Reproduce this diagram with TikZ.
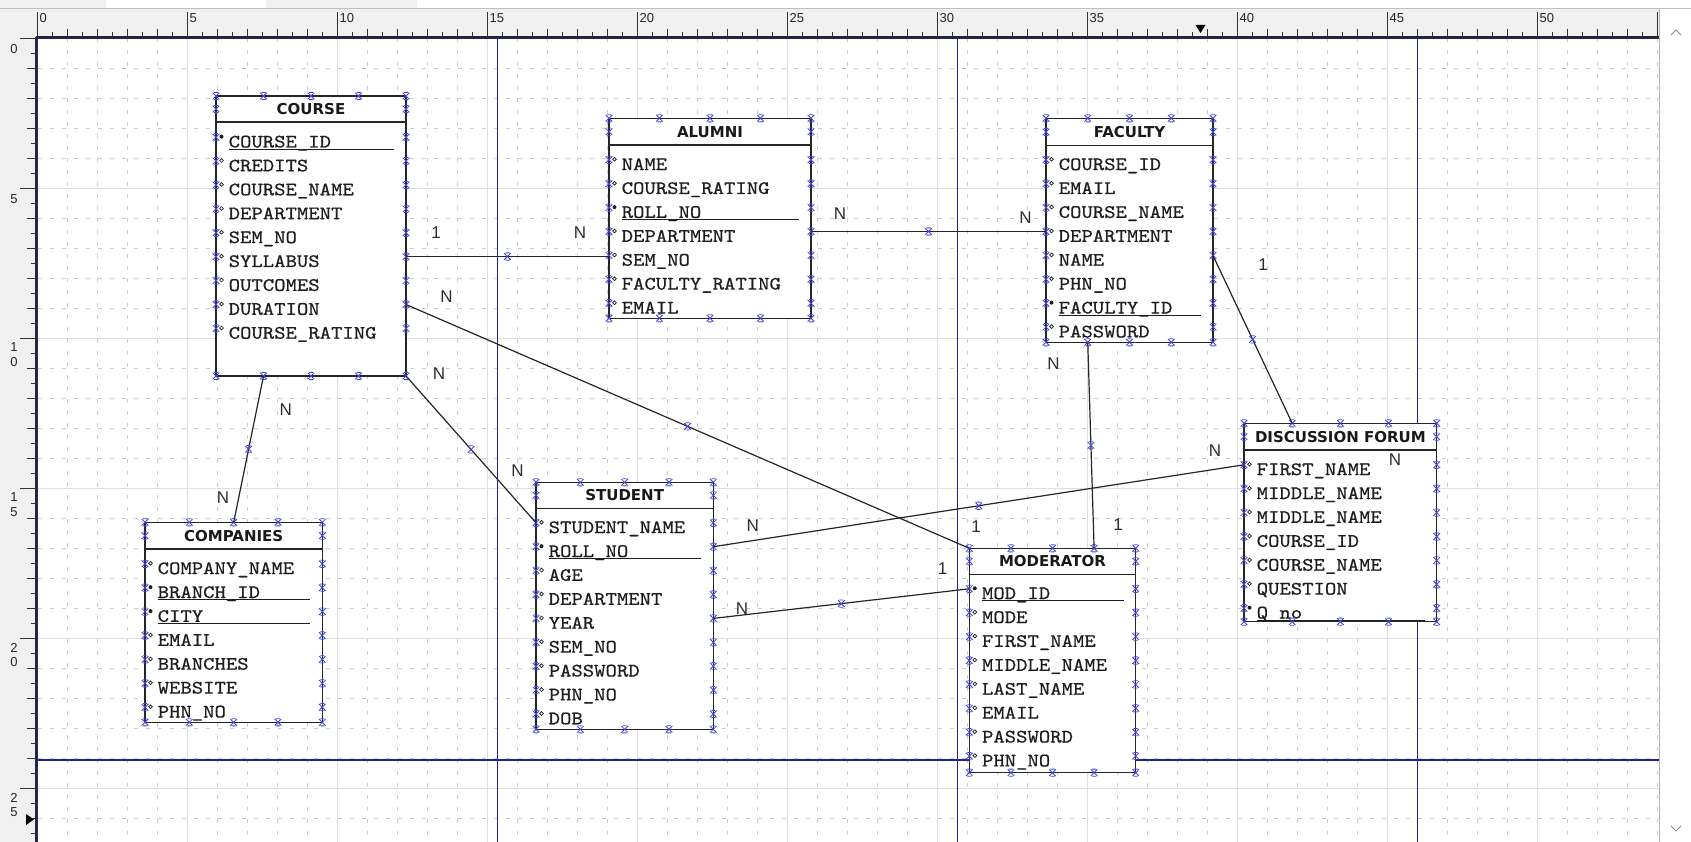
\documentclass[tikz,border=0pt]{standalone}
\usepackage{fontspec}
\usetikzlibrary{calc}
\newfontfamily\attrfont[FakeStretch=1.14,FakeBold=0.6]{lmmono10-regular.otf}
\newfontfamily\ttlfont{DejaVu Sans}
\newfontfamily\lblfont{Liberation Sans}
\definecolor{pageblue}{RGB}{35,35,145}
\definecolor{markblue}{RGB}{70,70,220}
\definecolor{griddash}{RGB}{205,205,205}
\definecolor{gridmajor}{RGB}{222,222,228}
\definecolor{rulerbg}{RGB}{240,240,240}
\definecolor{txtc}{RGB}{30,30,30}
\definecolor{lblc}{RGB}{45,45,45}
\tikzset{
  tbox/.style={draw=black!85, line width=1.3pt, fill=white, inner sep=0pt, rectangle},
  tline/.style={draw=black!85, line width=1.2pt},
  ttitle/.style={anchor=base, inner sep=0pt, font=\ttlfont\bfseries\fontsize{15}{15}\selectfont, text=black!90},
  attr/.style={anchor=base west, inner sep=0pt, font=\attrfont\fontsize{19}{19}\selectfont, text=txtc},
  uline/.style={draw=txtc, line width=1pt},
  conn/.style={draw=black!85, line width=1.2pt},
  lbl/.style={inner sep=0pt, font=\lblfont\fontsize{17}{17}\selectfont, text=lblc},
  pageline/.style={draw=pageblue, line width=1.3pt},
  rtick/.style={draw=black!80, line width=0.9pt},
  rlbl/.style={inner sep=0pt, font=\lblfont\fontsize{13}{13}\selectfont, text=black!85},
  gdash/.style={draw=griddash, line width=0.6pt, dash pattern=on 4pt off 8pt},
  gmaj/.style={draw=gridmajor, line width=0.8pt},
  bx/.pic={\draw[markblue, line width=0.85pt] (-3.3,-3.3) -- (3.3,3.3) (-3.3,3.3) -- (3.3,-3.3) (-2,-3.6) -- (2,-3.6) (-2,3.6) -- (2,3.6);},
}
% #1 name #2 L #3 T #4 R #5 B #6 header line y #7 first row centre y #8 title #9 attributes
\newcommand{\ertable}[9]{%
  \pgfmathsetmacro{\tw}{#4-#2}%
  \pgfmathsetmacro{\th}{#5-#3}%
  \pgfmathsetmacro{\cx}{(#2+#4)/2}%
  \pgfmathsetmacro{\cy}{(#3+#5)/2}%
  \pgfmathsetmacro{\ty}{(#3+#6)/2}%
  \node[tbox, minimum width=\tw pt, minimum height=\th pt] (#1) at (\cx,\cy) {};
  \draw[tline] (#2,#6) -- (#4,#6);
  \node[ttitle] (#1-title) at (\cx,\ty+5.4) {#8};
  \foreach \kk/\att [count=\i] in {#9} {
    \pgfmathsetmacro{\ry}{#7+(\i-1)*23.9}
    \node[attr] (#1-a\i) at (#2+12.5,\ry+5.8) {\att};
    \ifnum\kk=1
      \fill[txtc] (#2+5.5,\ry-5) circle (2);
      \draw[uline] (#2+12.5,\ry+7.6) -- (#4-12,\ry+7.6);
    \else
      \draw[txtc, line width=0.7pt] (#2+5.5,\ry-5) circle (1.9);
    \fi
    \pic at (#2,\ry-4.5) {bx};
    \pic at (#4,\ry-4.5) {bx};
  }
  \foreach \j in {0,...,4} {
    \pic at (#2+\j*\tw/4,#3) {bx};
    \pic at (#2+\j*\tw/4,#5) {bx};
  }
  \pic at (#2,\ty) {bx};
  \pic at (#4,\ty) {bx};
}
\begin{document}
\begin{tikzpicture}[x=1pt,y=-1pt]
\useasboundingbox (0,0) rectangle (1691,842);
\fill[white] (0,0) rectangle (1691,842);
% grid
\foreach \k in {1,...,54} \draw[gdash] (37.7+30*\k,38.5) -- (37.7+30*\k,842);
\foreach \k in {1,...,27} \draw[gdash] (37.7,38.5+30*\k) -- (1659,38.5+30*\k);
\foreach \k in {1,...,10} \draw[gmaj] (37.7+150*\k,38.5) -- (37.7+150*\k,842);
\foreach \k in {1,...,5} \draw[gmaj] (37.7,38.5+150*\k) -- (1659,38.5+150*\k);
% page boundaries
\draw[pageline] (37.7,38.5) -- (1659,38.5);
\draw[pageline] (37.7,38.5) -- (37.7,842);
\draw[pageline] (497.7,38.5) -- (497.7,842);
\draw[pageline] (957.7,38.5) -- (957.7,842);
\draw[pageline] (1417.7,38.5) -- (1417.7,842);
\draw[pageline] (37.7,760) -- (1659,760);
% rulers
\fill[rulerbg] (0,0) rectangle (1691,37);
\fill[rulerbg] (0,37) rectangle (36,842);
\fill[white] (106,0) rectangle (266,8);
\fill[white] (417,0) rectangle (1691,8);
\draw[black!25] (0,8.5) -- (1691,8.5);
\foreach \k in {0,...,54} \draw[rtick] (37.7+30*\k,29) -- (37.7+30*\k,37);
\foreach \k in {0,...,53} \draw[rtick] (52.7+30*\k,32.5) -- (52.7+30*\k,37);
\foreach \k in {0,...,10} {
  \draw[rtick] (37.7+150*\k,12) -- (37.7+150*\k,37);
  \pgfmathtruncatemacro{\lab}{5*\k}
  \node[rlbl, anchor=north west] (tr\k) at (39.5+150*\k,13) {\lab};
}
\draw[rtick] (1657,12) -- (1657,37);
\draw[black!85, line width=1.2pt] (36,37) -- (1659,37);
\draw[black!85, line width=2pt] (36,37) -- (36,842);
\foreach \k in {0,...,26} \draw[rtick] (27,38.5+30*\k) -- (36,38.5+30*\k);
\foreach \k in {0,...,26} \draw[rtick] (30.5,53.5+30*\k) -- (36,53.5+30*\k);
\foreach \k in {0,...,5} \draw[rtick] (20,38.5+150*\k) -- (36,38.5+150*\k);
\node[rlbl] (lr0) at (14,49) {0};
\node[rlbl] (lr5) at (14,199) {5};
\node[rlbl] (lr10a) at (14,347.5) {1};
\node[rlbl] (lr10b) at (14,362.5) {0};
\node[rlbl] (lr15a) at (14,497.5) {1};
\node[rlbl] (lr15b) at (14,512.5) {5};
\node[rlbl] (lr20a) at (14,647.5) {2};
\node[rlbl] (lr20b) at (14,662.5) {0};
\node[rlbl] (lr25a) at (14,797.5) {2};
\node[rlbl] (lr25b) at (14,812.5) {5};
\fill[black] (1195.5,25) -- (1205.5,25) -- (1200.5,33) -- cycle;
\fill[black] (26,814) -- (26,825) -- (34,819.5) -- cycle;
% scrollbar
\fill[white] (1660,9) rectangle (1691,842);
\draw[black!30] (1659.5,9) -- (1659.5,842);
\draw[black!45, line width=1pt] (1671,35) -- (1676,30) -- (1681,35);
\draw[black!45, line width=1pt] (1671,826) -- (1676,831) -- (1681,826);
% tables
\ertable{course}{216}{96}{406}{376}{122}{141.7}{COURSE}{1/COURSE\_ID,0/CREDITS,0/COURSE\_NAME,0/DEPARTMENT,0/SEM\_NO,0/SYLLABUS,0/OUTCOMES,0/DURATION,0/COURSE\_RATING}
\ertable{alumni}{609}{118.3}{811}{318.3}{145}{164.3}{ALUMNI}{0/NAME,0/COURSE\_RATING,1/ROLL\_NO,0/DEPARTMENT,0/SEM\_NO,0/FACULTY\_RATING,0/EMAIL}
\ertable{faculty}{1046}{118.3}{1213}{342.3}{145.7}{164.3}{FACULTY}{0/COURSE\_ID,0/EMAIL,0/COURSE\_NAME,0/DEPARTMENT,0/NAME,0/PHN\_NO,1/FACULTY\_ID,0/PASSWORD}
\ertable{companies}{145}{522.3}{322.3}{722.3}{549}{568.3}{COMPANIES}{0/COMPANY\_NAME,1/BRANCH\_ID,1/CITY,0/EMAIL,0/BRANCHES,0/WEBSITE,0/PHN\_NO}
\ertable{student}{536}{482.3}{713.3}{729.3}{508.3}{527.3}{STUDENT}{0/STUDENT\_NAME,1/ROLL\_NO,0/AGE,0/DEPARTMENT,0/YEAR,0/SEM\_NO,0/PASSWORD,0/PHN\_NO,0/DOB}
\ertable{moderator}{969.3}{548.3}{1135.7}{772.7}{574.3}{593.3}{MODERATOR}{1/MOD\_ID,0/MODE,0/FIRST\_NAME,0/MIDDLE\_NAME,0/LAST\_NAME,0/EMAIL,0/PASSWORD,0/PHN\_NO}
\ertable{forum}{1244}{423.3}{1436.7}{621.7}{450}{469.3}{DISCUSSION FORUM}{0/FIRST\_NAME,0/MIDDLE\_NAME,0/MIDDLE\_NAME,0/COURSE\_ID,0/COURSE\_NAME,0/QUESTION,1/Q\_no}
% connector end points
\coordinate (c1a) at (406,256.5);  \coordinate (c1b) at (609,256.5);
\coordinate (c2a) at (811,231.5);  \coordinate (c2b) at (1046,231.5);
\coordinate (c3a) at (1213,255.5); \coordinate (c3b) at (1292.2,423.3);
\coordinate (c4a) at (1087.75,342.3); \coordinate (c4b) at (1094.1,548.3);
\coordinate (c5a) at (263.5,376);  \coordinate (c5b) at (233.7,522.3);
\coordinate (c6a) at (406,376);    \coordinate (c6b) at (536,522.8);
\coordinate (c7a) at (406,304.5);  \coordinate (c7b) at (969.3,548.3);
\coordinate (c8a) at (713.3,546.7); \coordinate (c8b) at (1244,464.8);
\coordinate (c9a) at (713.3,618.4); \coordinate (c9b) at (969.3,588.8);
\foreach \c in {1,...,9} {
  \draw[conn] (c\c a) -- (c\c b);
  \pic at ($(c\c a)!0.5!(c\c b)$) {bx};
}
% cardinality labels
\node[lbl] (l1a) at (436,233) {1};
\node[lbl] (l1b) at (580,233) {N};
\node[lbl] (l2a) at (840,213.5) {N};
\node[lbl] (l2b) at (1025.5,218) {N};
\node[lbl] (l3a) at (1263,265) {1};
\node[lbl] (l3b) at (1395,460) {N};
\node[lbl] (l4a) at (1053.6,363.4) {N};
\node[lbl] (l4b) at (1118,525) {1};
\node[lbl] (l5a) at (285.8,409.8) {N};
\node[lbl] (l5b) at (223,498) {N};
\node[lbl] (l6a) at (439,374) {N};
\node[lbl] (l6b) at (517.6,471) {N};
\node[lbl] (l7a) at (446.5,296.5) {N};
\node[lbl] (l7b) at (976,527) {1};
\node[lbl] (l8a) at (752.7,526) {N};
\node[lbl] (l8b) at (1215,451) {N};
\node[lbl] (l9a) at (742,609) {N};
\node[lbl] (l9b) at (942.5,569) {1};
\end{tikzpicture}
\end{document}
